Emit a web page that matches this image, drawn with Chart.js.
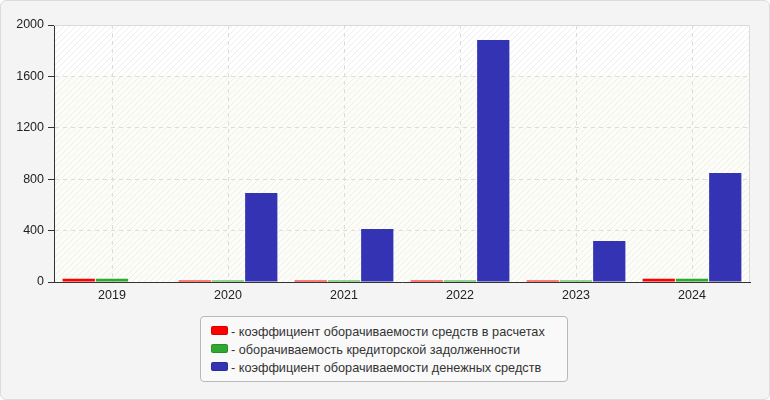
<!DOCTYPE html>
<html>
<head>
<meta charset="utf-8">
<script src="https://cdn.jsdelivr.net/npm/chart.js@4"></script>
<style>
    body { margin: 0; background: #fff; }
    #panel {
        position: absolute; left: 0; top: 0; width: 768px; height: 398px;
        background: #f4f4f4; border: 1px solid #dcdcdc; border-radius: 6px;
    }
    #wrap { position: absolute; left: 0; top: 0; width: 770px; height: 400px; }
    #legend {
        position: absolute; left: 200px; top: 316px; width: 368px; height: 66px;
        border: 1px solid #b8b8b8; border-radius: 4px; background: #f9f9f9;
        font: 12.7px "Liberation Sans", Arial, sans-serif; color: #333;
        padding-top: 6px; box-sizing: border-box;
    }
    .item { height: 18px; line-height: 18px; padding-left: 10px; white-space: nowrap; }
    .sw {
        display: inline-block; width: 15px; height: 7px; border-radius: 2px;
        margin-right: 3px; vertical-align: 1px; border: 1px solid rgba(0,0,0,0.15);
    }
</style>
</head>
<body>
<div id="panel"></div>
<div id="wrap"><canvas id="myChart" width="770" height="400"></canvas></div>
<div id="legend"></div>
<script>
var years = ['2019', '2020', '2021', '2022', '2023', '2024'];
var settlementTurnover = [25, 12, 12, 12, 12, 25];
var payablesTurnover = [25, 12, 12, 12, 12, 25];
var cashTurnover = [0, 692, 412, 1883, 319, 848];
var yTicks = [0, 400, 800, 1200, 1600, 2000];

var seriesNames = [
    'коэффициент оборачиваемости средств в расчетах',
    'оборачиваемость кредиторской задолженности',
    'коэффициент оборачиваемости денежных средств'
];
var seriesColors = ['#ff0000', '#2ea82e', '#3333b3'];

// hatched plot background, slightly different tint below 1600
function hatch(bg) {
    var c = document.createElement('canvas');
    c.width = 6; c.height = 6;
    var g = c.getContext('2d');
    g.fillStyle = bg;
    g.fillRect(0, 0, 6, 6);
    g.strokeStyle = '#eeeeee';
    g.lineWidth = 1;
    g.beginPath();
    g.moveTo(-1, 7); g.lineTo(7, -1);
    g.moveTo(-1, 1); g.lineTo(1, -1);
    g.moveTo(5, 7); g.lineTo(7, 5);
    g.stroke();
    return c;
}

var plotBg = {
    id: 'plotBg',
    beforeDraw: function(chart) {
        var ctx = chart.ctx, a = chart.chartArea, y = chart.scales.y;
        var split = y.getPixelForValue(1600);
        ctx.save();
        ctx.fillStyle = ctx.createPattern(hatch('#ffffff'), 'repeat');
        ctx.fillRect(a.left, a.top, a.right - a.left, split - a.top);
        ctx.fillStyle = ctx.createPattern(hatch('#fdfdf8'), 'repeat');
        ctx.fillRect(a.left, split, a.right - a.left, a.bottom - split);
        ctx.restore();
    },
    afterDraw: function(chart) {
        var ctx = chart.ctx, a = chart.chartArea;
        ctx.save();
        ctx.strokeStyle = '#dadada';
        ctx.lineWidth = 1;
        ctx.beginPath();
        ctx.moveTo(a.left, a.top + 0.5);
        ctx.lineTo(a.right - 0.5, a.top + 0.5);
        ctx.lineTo(a.right - 0.5, a.bottom);
        ctx.stroke();
        ctx.restore();
    }
};

var ctx = document.getElementById('myChart').getContext('2d');
var myChart = new Chart(ctx, {
    type: 'bar',
    data: {
        labels: years,
        datasets: [{
            label: seriesNames[0],
            data: settlementTurnover,
            backgroundColor: seriesColors[0]
        }, {
            label: seriesNames[1],
            data: payablesTurnover,
            backgroundColor: seriesColors[1]
        }, {
            label: seriesNames[2],
            data: cashTurnover,
            backgroundColor: seriesColors[2]
        }]
    },
    options: {
        responsive: false,
        animation: false,
        categoryPercentage: 0.86,
        barPercentage: 0.97,
        layout: {
            padding: { left: 0, top: 25, right: 20, bottom: 94 }
        },
        plugins: {
            legend: { display: false },
            tooltip: { enabled: false }
        },
        scales: {
            x: {
                afterFit: function(s) { s.height = 24; },
                grid: {
                    offset: false,
                    color: '#dcdcdc',
                    drawTicks: false
                },
                border: { color: '#333', width: 1, dash: [4, 4] },
                ticks: {
                    color: '#222',
                    padding: 6,
                    font: { family: 'Liberation Sans', size: 12.5 }
                }
            },
            y: {
                min: 0,
                max: 2000,
                afterFit: function(s) { s.width = 54; },
                afterBuildTicks: function(s) {
                    s.ticks = yTicks.map(function(v) { return { value: v }; });
                },
                grid: {
                    color: '#dcdcdc',
                    tickColor: '#333',
                    tickLength: 6,
                    tickBorderDash: []
                },
                border: { color: '#333', width: 1, dash: [4, 4] },
                ticks: {
                    color: '#222',
                    padding: 4,
                    font: { family: 'Liberation Sans', size: 12.5 },
                    callback: function(v) { return String(v); }
                }
            }
        }
    },
    plugins: [plotBg]
});

var lg = document.getElementById('legend');
for (var i = 0; i < seriesNames.length; i++) {
    var d = document.createElement('div');
    d.className = 'item';
    d.innerHTML = '<span class="sw" style="background:' + seriesColors[i] + '"></span>- ' + seriesNames[i];
    lg.appendChild(d);
}
</script>
</body>
</html>
